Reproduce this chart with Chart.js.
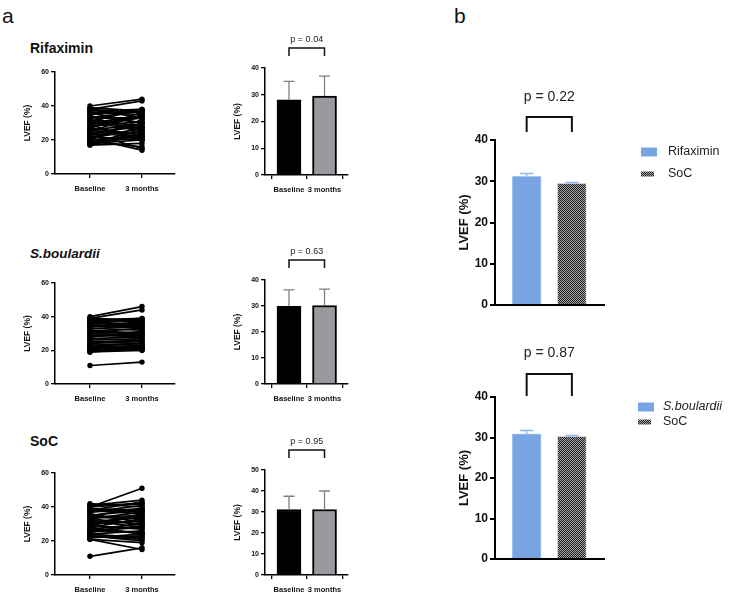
<!DOCTYPE html>
<html>
<head>
<meta charset="utf-8">
<script src="https://cdn.jsdelivr.net/npm/chart.js@4.4.1/dist/chart.umd.min.js"></script>
<style>
	body { margin: 0; width: 729px; height: 594px; background: #fff; position: relative; overflow: hidden; font-family: "Liberation Sans", Arial, sans-serif; }
	canvas { position: absolute; }
	.lbl { position: absolute; line-height: 1; color: #111; white-space: nowrap; }
</style>
</head>
<body>
<div class="lbl" style="left:2px;top:5px;font-size:21px">a</div>
<div class="lbl" style="left:454px;top:5px;font-size:21px">b</div>
<div class="lbl" style="left:30px;top:41px;font-size:14px;font-weight:bold">Rifaximin</div>
<div class="lbl" style="left:30px;top:247px;font-size:13.5px;font-weight:bold;font-style:italic">S.boulardii</div>
<div class="lbl" style="left:30px;top:434px;font-size:14px;font-weight:bold">SoC</div>

<canvas id="pair-rifa" width="170" height="138" style="left:15px;top:60px"></canvas>
<canvas id="pair-sb" width="170" height="137" style="left:15px;top:271px"></canvas>
<canvas id="pair-soc" width="170" height="138" style="left:15px;top:461px"></canvas>
<canvas id="bar-rifa" width="133" height="169" style="left:225px;top:30px"></canvas>
<canvas id="bar-sb" width="133" height="166" style="left:225px;top:242px"></canvas>
<canvas id="bar-soc" width="133" height="167" style="left:225px;top:432px"></canvas>
<canvas id="cmp-rifa" width="279" height="235" style="left:450px;top:80px"></canvas>
<canvas id="cmp-sb" width="279" height="234" style="left:450px;top:335px"></canvas>

<script>
// --- Data ---
const timepoints = ['Baseline', '3 months'];

// individual LVEF (%) per patient, baseline vs 3 months
const rifaBaseline = [40, 39, 38, 38, 37, 36, 36, 35, 34, 33, 32, 31, 30, 30, 29, 28, 27, 27, 26, 25, 24, 23, 23, 22, 21, 21, 20, 20, 19, 18, 18, 17, 17, 25, 33, 38, 36, 34, 31, 29, 26, 24, 22, 20, 19];
const rifa3m       = [44, 37, 43, 36, 38, 30, 35, 37, 24, 33, 28, 38, 26, 34, 20, 31, 36, 23, 29, 21, 15, 30, 25, 20, 27, 14, 22, 32, 16, 26, 20, 24, 18, 35, 37, 33, 38, 30, 27, 33, 22, 28, 25, 23, 21];
const sbBaseline   = [40, 39, 39, 38, 38, 37, 36, 35, 35, 34, 33, 32, 31, 30, 30, 29, 28, 27, 26, 25, 25, 24, 23, 22, 21, 21, 20, 20, 19, 19, 11, 34, 28, 37, 37, 35, 33, 31, 29, 27, 25, 23, 22, 20];
const sb3m         = [46, 44, 38, 39, 37, 35, 36, 34, 33, 37, 32, 30, 33, 29, 31, 28, 30, 26, 27, 24, 25, 23, 22, 21, 23, 20, 21, 22, 20, 21, 13, 36, 31, 39, 38, 35, 34, 30, 29, 28, 26, 24, 22, 21];
const socBaseline  = [42, 41, 40, 40, 39, 38, 37, 36, 35, 34, 33, 33, 32, 31, 30, 29, 28, 28, 27, 26, 25, 24, 24, 23, 22, 21, 21, 11, 38, 35, 30, 26, 23, 41, 39, 37, 34, 32, 29, 27, 25, 23, 22];
const soc3m        = [40, 44, 51, 42, 38, 36, 41, 31, 39, 35, 30, 37, 28, 34, 32, 27, 33, 24, 30, 25, 29, 22, 26, 20, 23, 15, 19, 16, 43, 38, 36, 28, 21, 42, 37, 39, 33, 30, 35, 25, 31, 22, 24];

// mean and SD per timepoint
const rifaMean = [28.1, 29.5];
const rifaSD   = [6.9, 7.5];
const sbMean   = [29.9, 30.2];
const sbSD     = [6.3, 6.3];
const socMean  = [31.2, 31.2];
const socSD    = [6.3, 8.8];

// panel b: treatment vs SoC at 3 months
const cmpRifaLabels = ['Rifaximin', 'SoC'];
const cmpRifaMean   = [31.2, 29.5];
const cmpRifaErr    = [0.7, 0.2];
const cmpSbLabels   = ['S.boulardii', 'SoC'];
const cmpSbMean     = [30.9, 30.3];
const cmpSbErr      = [0.8, 0.2];

const pValues = { rifa: 'p = 0.04', sb: 'p = 0.63', soc: 'p = 0.95', cmpRifa: 'p = 0.22', cmpSb: 'p = 0.87' };

const FONT = '"Liberation Sans", Arial, sans-serif';
Chart.defaults.font.family = FONT;
Chart.defaults.color = '#111';

// --- Plugins ---
function allBars(chart) {
	const out = [];
	chart.data.datasets.forEach((ds, k) => {
		chart.getDatasetMeta(k).data.forEach((el, i) => out.push({ el, raw: ds.data[i] }));
	});
	return out;
}

const errBarPlugin = {
	id: 'errBars',
	afterDatasetsDraw(chart, args, opts) {
		if (!opts.err) return;
		const ctx = chart.ctx, y = chart.scales.y;
		ctx.save();
		ctx.strokeStyle = opts.color;
		ctx.lineWidth = opts.width;
		allBars(chart).forEach((b, i) => {
			const top = y.getPixelForValue(b.raw.y + opts.err[i]);
			ctx.beginPath();
			ctx.moveTo(b.el.x, b.el.y);
			ctx.lineTo(b.el.x, top);
			ctx.moveTo(b.el.x - opts.cap / 2, top);
			ctx.lineTo(b.el.x + opts.cap / 2, top);
			ctx.stroke();
		});
		ctx.restore();
	}
};

const bracketPlugin = {
	id: 'bracket',
	afterDraw(chart, args, opts) {
		if (!opts.text) return;
		const ctx = chart.ctx, t = chart.chartArea.top;
		const bars = allBars(chart);
		const x0 = bars[0].el.x, x1 = bars[1].el.x;
		ctx.save();
		ctx.strokeStyle = '#111';
		ctx.lineWidth = opts.width;
		ctx.beginPath();
		ctx.moveTo(x0, t + opts.tip);
		ctx.lineTo(x0, t + opts.top);
		ctx.lineTo(x1, t + opts.top);
		ctx.lineTo(x1, t + opts.tip);
		ctx.stroke();
		ctx.fillStyle = '#222';
		ctx.font = opts.size + 'px ' + FONT;
		ctx.textAlign = 'center';
		ctx.textBaseline = 'middle';
		ctx.fillText(opts.text, (x0 + x1) / 2, t + opts.textY);
		ctx.restore();
	}
};

const sideLegendPlugin = {
	id: 'sideLegend',
	afterDraw(chart, args, opts) {
		if (!opts.items) return;
		const ctx = chart.ctx, a = chart.chartArea;
		ctx.save();
		chart.data.datasets.forEach((ds, i) => {
			const yc = a.top + opts.items[i].dy;
			const bw = opts.items[i].bw, bh = opts.items[i].bh;
			ctx.fillStyle = ds.backgroundColor;
			ctx.fillRect(a.right + opts.boxX, yc - bh / 2, bw, bh);
			ctx.fillStyle = '#222';
			ctx.font = (opts.items[i].italic ? 'italic ' : '') + opts.size + 'px ' + FONT;
			ctx.textBaseline = 'middle';
			ctx.fillText(ds.label, a.right + opts.textX, yc);
		});
		ctx.restore();
	}
};

Chart.register(errBarPlugin, bracketPlugin, sideLegendPlugin);

// --- Helpers ---
function fixedTicks(labels) {
	return {
		afterBuildTicks: s => { s.ticks = labels.map((l, i) => ({ value: i })); },
		ticks: { callback: v => labels[v], autoSkip: false, maxRotation: 0, padding: 6, font: { size: 7.5, weight: 'bold' }, color: '#111' }
	};
}

function yAxisA(max, step, width) {
	return {
		min: 0, max: max,
		ticks: { stepSize: step, padding: 2, font: { size: 7, weight: 'bold' }, color: '#111' },
		grid: { drawOnChartArea: false, color: '#000', tickLength: 4, lineWidth: 1.3 },
		border: { color: '#000', width: 1.5 },
		title: { display: true, text: 'LVEF (%)', padding: { top: 8, bottom: 0 }, font: { size: 8.5, weight: 'bold' }, color: '#111' },
		afterFit: s => { s.width = width; }
	};
}

function pairChart(id, base, after) {
	const datasets = base.map((b, i) => ({
		data: [{ x: 0, y: b }, { x: 1, y: after[i] }],
		borderColor: '#000',
		backgroundColor: '#000',
		borderWidth: 1.7,
		pointRadius: 2.7,
		pointBorderWidth: 0
	}));
	new Chart(document.getElementById(id), {
		type: 'line',
		data: { datasets },
		options: {
			responsive: false,
			animation: false,
			layout: { padding: { top: 12, right: 10, left: 0, bottom: 0 } },
			plugins: { legend: { display: false }, tooltip: { enabled: false } },
			scales: {
				x: Object.assign({
					type: 'linear', min: -0.673, max: 1.635, offset: false,
					grid: { drawOnChartArea: false, color: '#000', tickLength: 4, lineWidth: 1.3 },
					border: { color: '#000', width: 1.5 },
					afterFit: s => { s.height = 24; }
				}, fixedTicks(timepoints)),
				y: yAxisA(60, 20, 40)
			}
		}
	});
}

function meanChart(id, mean, sd, yMax, p) {
	new Chart(document.getElementById(id), {
		type: 'bar',
		data: {
			datasets: [{
				data: mean.map((m, i) => ({ x: i, y: m })),
				backgroundColor: ['#000', '#9a999e'],
				borderColor: '#000',
				borderWidth: 2,
				barThickness: 24
			}]
		},
		options: {
			responsive: false,
			animation: false,
			layout: { padding: { top: 38, right: 10, left: 0, bottom: 0 } },
			plugins: {
				legend: { display: false }, tooltip: { enabled: false },
				errBars: { err: sd, color: '#808080', width: 1.3, cap: 11 },
				bracket: { text: p, top: -20, tip: -12, textY: -28, size: 9, width: 1.5 }
			},
			scales: {
				x: Object.assign({
					type: 'linear', min: -0.675, max: 1.661, offset: false,
					grid: { drawOnChartArea: false, color: '#000', tickLength: 4, lineWidth: 1.3 },
					border: { color: '#000', width: 1.5 },
					afterFit: s => { s.height = 24; }
				}, fixedTicks(timepoints)),
				y: yAxisA(yMax, 10, 40)
			}
		}
	});
}

function checker(id) {
	const c = document.createElement('canvas');
	c.width = 2; c.height = 2;
	const g = c.getContext('2d');
	g.fillStyle = '#a8a8a8';
	g.fillRect(0, 0, 2, 2);
	g.fillStyle = '#1e1e1e';
	g.fillRect(0, 0, 1, 1);
	g.fillRect(1, 1, 1, 1);
	return document.getElementById(id).getContext('2d').createPattern(c, 'repeat');
}

function compareChart(id, labels, mean, err, p, legend, bracket) {
	const fills = ['#78a5e2', checker(id)];
	const borders = ['#a9c7f0', '#cfcfcf'];
	new Chart(document.getElementById(id), {
		type: 'bar',
		data: {
			datasets: labels.map((l, i) => ({
				label: l,
				data: [{ x: i, y: mean[i] }],
				backgroundColor: fills[i],
				borderColor: borders[i],
				borderWidth: 1,
				barThickness: 29,
				grouped: false
			}))
		},
		options: {
			responsive: false,
			animation: false,
			layout: { padding: { top: bracket.pad, right: 125, left: 0, bottom: 0 } },
			plugins: {
				legend: { display: false }, tooltip: { enabled: false },
				errBars: { err: err, color: '#8fb5ea', width: 1.5, cap: 13 },
				bracket: { text: p, top: bracket.top, tip: bracket.tip, textY: bracket.textY, size: 14, width: 2 },
				sideLegend: legend
			},
			scales: {
				x: {
					type: 'linear', min: -0.7, max: 1.71, offset: false,
					ticks: { display: false },
					grid: { display: false },
					border: { color: '#000', width: 2 },
					afterFit: s => { s.height = 10; }
				},
				y: {
					min: 0, max: 40,
					ticks: { stepSize: 10, padding: 2, font: { size: 12, weight: 'bold' }, color: '#111' },
					grid: { drawOnChartArea: false, color: '#000', tickLength: 5, lineWidth: 2 },
					border: { color: '#000', width: 2 },
					title: { display: true, text: 'LVEF (%)', padding: { top: 7, bottom: 0 }, font: { size: 13, weight: 'bold' }, color: '#111' },
					afterFit: s => { s.width = 45; }
				}
			}
		}
	});
}

document.addEventListener('DOMContentLoaded', function() {
	pairChart('pair-rifa', rifaBaseline, rifa3m);
	pairChart('pair-sb', sbBaseline, sb3m);
	pairChart('pair-soc', socBaseline, soc3m);
	meanChart('bar-rifa', rifaMean, rifaSD, 40, pValues.rifa);
	meanChart('bar-sb', sbMean, sbSD, 40, pValues.sb);
	meanChart('bar-soc', socMean, socSD, 50, pValues.soc);
	compareChart('cmp-rifa', cmpRifaLabels, cmpRifaMean, cmpRifaErr, pValues.cmpRifa,
		{ boxX: 37, textX: 64, size: 12.5, items: [{ dy: 12, bw: 16, bh: 9 }, { dy: 34, bw: 13, bh: 5 }] },
		{ pad: 60, top: -23, tip: -8, textY: -43 });
	compareChart('cmp-sb', cmpSbLabels, cmpSbMean, cmpSbErr, pValues.cmpSb,
		{ boxX: 34, textX: 59, size: 12.5, items: [{ dy: 10, bw: 16, bh: 9, italic: true }, { dy: 25, bw: 13, bh: 5 }] },
		{ pad: 62, top: -23, tip: -1, textY: -44 });
});
</script>
</body>
</html>
